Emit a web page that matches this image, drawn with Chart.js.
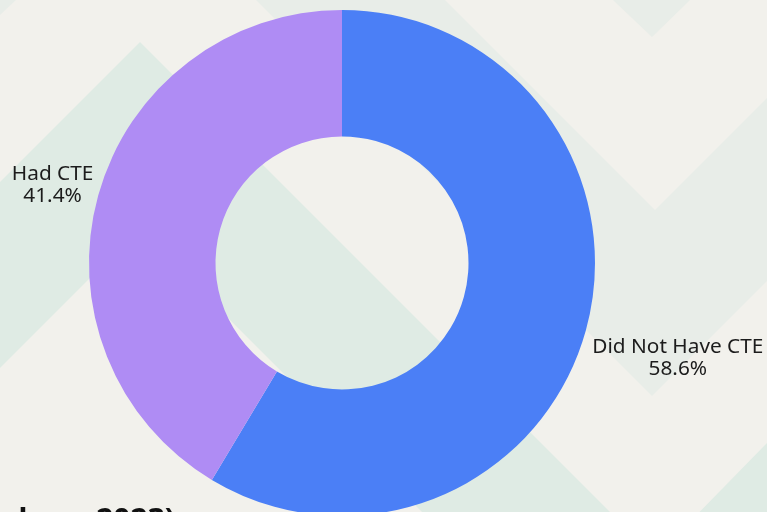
<!DOCTYPE html>
<html>
<head>
<meta charset="utf-8">
<script src="https://cdn.jsdelivr.net/npm/chart.js@4"></script>
<style>
  html, body { margin: 0; padding: 0; }
  body { width: 767px; height: 512px; overflow: hidden; background: #f2f1ec; position: relative; }
  #wrap { position: absolute; left: 0; top: 0; width: 767px; height: 532px; }
  #note {
    position: absolute; right: 592px; top: 499px;
    font: bold 30px "Noto Sans", sans-serif; color: #111;
    white-space: nowrap; text-align: right; line-height: 40px;
  }
</style>
</head>
<body>
<div id="wrap"><canvas id="cte"></canvas></div>
<div id="note">(percentage values, 2023)</div>
<script>
// data
const labels = ["Did Not Have CTE", "Had CTE"];
const shares = [58.6, 41.4];
const colors = ["#4b7ff6", "#af8cf4"];

// background chevrons (decoration only)
const bgGreen = [[0, 182], [140, 42], [610, 512], [422, 512], [139, 229], [0, 368]];
const bgGreenCorner = [[767, 443], [767, 532], [680, 532]];
const bgGrey = [[256, 0], [445, 0], [655, 210], [767, 98], [767, 281], [652, 396]];
const bgGreyTop = [[613, 0], [690, 0], [652, 37]];
const bgGreyCorner = [[0, 0], [16, 0], [0, 15]];

const backdrop = {
  id: "backdrop",
  beforeDraw(chart) {
    const c = chart.ctx;
    const fill = (pts, col) => {
      c.beginPath();
      pts.forEach(([x, y], i) => (i ? c.lineTo(x, y) : c.moveTo(x, y)));
      c.closePath();
      c.fillStyle = col;
      c.fill();
    };
    c.save();
    c.fillStyle = "#f2f1ec";
    c.fillRect(0, 0, chart.width, chart.height);
    fill(bgGrey, "#e8ede8");
    fill(bgGreyTop, "#e8ede8");
    fill(bgGreyCorner, "#e8ede8");
    fill(bgGreen, "#dfebe4");
    fill(bgGreenCorner, "#dfebe4");
    c.restore();
  }
};

// labels outside the ring
const outLabels = {
  id: "outLabels",
  afterDatasetsDraw(chart) {
    const c = chart.ctx;
    const meta = chart.getDatasetMeta(0);
    const lh = 22.5;
    c.save();
    c.font = '20.8px "Noto Sans", sans-serif';
    c.fillStyle = "#1c1c1c";
    c.textAlign = "center";
    c.textBaseline = "middle";
    meta.data.forEach((arc, i) => {
      const p = arc.getProps(["x", "y", "startAngle", "endAngle", "outerRadius"], true);
      const mid = (p.startAngle + p.endAngle) / 2;
      const dx = Math.cos(mid), dy = Math.sin(mid);
      const lines = [labels[i], shares[i].toFixed(1) + "%"];
      const w = Math.max(...lines.map(t => c.measureText(t).width));
      const gap = dx > 0 ? 7 : 2;
      const r = p.outerRadius + gap + (w / 2) * Math.abs(dx) + lh * Math.abs(dy);
      const cx = p.x + dx * r, cy = p.y + dy * r + 2;
      lines.forEach((t, k) => c.fillText(t, cx, cy + (k - 0.5) * lh));
    });
    c.restore();
  }
};

new Chart(document.getElementById("cte"), {
  type: "doughnut",
  data: {
    labels: labels,
    datasets: [{
      data: shares,
      backgroundColor: colors,
      borderWidth: 0,
      hoverOffset: 0,
      offset: 0
    }]
  },
  options: {
    responsive: true,
    maintainAspectRatio: false,
    animation: false,
    cutout: "50%",
    layout: { padding: { top: 10, bottom: 16, left: 0, right: 83 } },
    plugins: {
      legend: { display: false },
      tooltip: { enabled: false }
    }
  },
  plugins: [backdrop, outLabels]
});
</script>
</body>
</html>
